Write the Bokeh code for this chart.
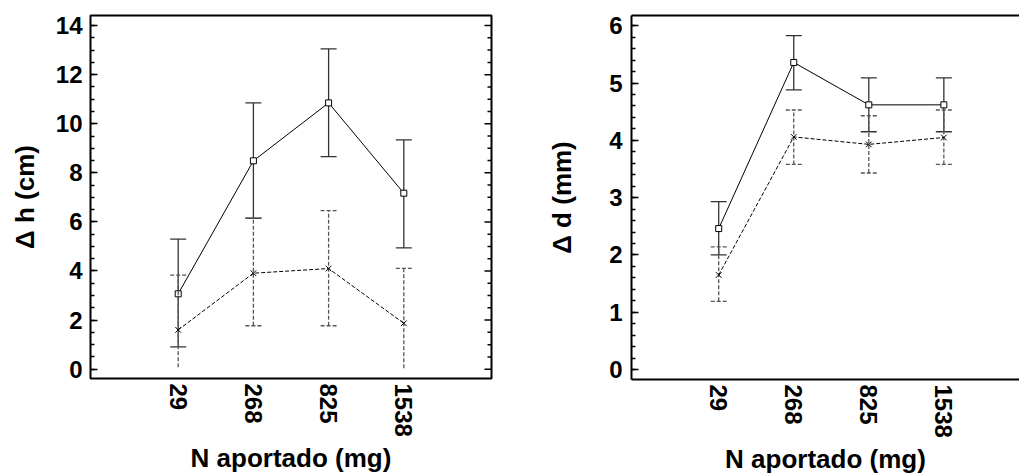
import numpy as np
from bokeh.plotting import figure
from bokeh.layouts import row
from bokeh.models import LinearAxis, Range1d, SingleIntervalTicker, FixedTicker
from bokeh.embed import file_html
from bokeh.resources import INLINE

# ---- data ----
n_labels = ["29", "268", "825", "1538"]
x_pos = [1, 2, 3, 4]

# Delta h (cm)
h_mean_1 = [3.07, 8.49, 10.85, 7.17]
h_up_1 = [5.30, 10.85, 13.05, 9.34]
h_lo_1 = [0.91, 6.15, 8.66, 4.94]
h_mean_2 = [1.60, 3.91, 4.10, 1.87]
h_up_2 = [3.83, 6.15, 6.46, 4.11]
h_lo_2 = [0.08, 1.77, 1.77, 0.04]

# Delta d (mm)
d_mean_1 = [2.46, 5.36, 4.62, 4.62]
d_up_1 = [2.93, 5.83, 5.09, 5.09]
d_lo_1 = [2.00, 4.88, 4.15, 4.15]
d_mean_2 = [1.65, 4.06, 3.93, 4.05]
d_up_2 = [2.14, 4.53, 4.43, 4.53]
d_lo_2 = [1.19, 3.58, 3.43, 3.58]

FONT = "Liberation Sans"
TICK_FS = "24px"
LABEL_FS = "26px"


def draw_series(p, mean, up, lo, dashed, marker):
    dash = "4 2" if dashed else "solid"
    wcol = "#555555" if dashed else "#333333"
    p.segment(x0=x_pos, y0=lo, x1=x_pos, y1=up, line_color=wcol,
              line_width=1.3, line_dash=dash)
    p.scatter(x=x_pos, y=up, marker="dash", size=16, line_color=wcol,
              line_width=1.3, line_dash=dash)
    lx = [x for x, v in zip(x_pos, lo) if v > 0.2]
    ly = [v for v in lo if v > 0.2]
    p.scatter(x=lx, y=ly, marker="dash", size=16, line_color=wcol,
              line_width=1.3, line_dash=dash)
    p.line(x=x_pos, y=mean, line_color="black", line_width=1, line_dash=dash)
    if marker == "square":
        p.scatter(x=x_pos, y=mean, marker="square", size=6, fill_color="white",
                  line_color="black", line_width=1)
    else:
        p.scatter(x=x_pos, y=mean, marker="x", size=8, line_color="black",
                  line_width=1)


def style_axes(p, interval, nminor, ylabel, label_standoff, tick_standoff):
    p.xgrid.visible = False
    p.ygrid.visible = False
    ya = p.yaxis[0]
    ya.ticker = SingleIntervalTicker(interval=interval, num_minor_ticks=nminor)
    ya.major_tick_in = 7
    ya.major_tick_out = 0
    ya.minor_tick_in = 4
    ya.minor_tick_out = 0
    ya.major_tick_line_width = 1.5
    ya.minor_tick_line_width = 1.5
    ya.major_label_text_font = FONT
    ya.major_label_text_font_style = "bold"
    ya.major_label_text_font_size = TICK_FS
    ya.major_label_text_color = "black"
    ya.major_label_standoff = tick_standoff
    ya.axis_label = ylabel
    ya.axis_label_text_font = FONT
    ya.axis_label_text_font_style = "bold"
    ya.axis_label_text_font_size = LABEL_FS
    ya.axis_label_text_color = "black"
    ya.axis_label_standoff = label_standoff

    xa = p.xaxis[0]
    xa.ticker = FixedTicker(ticks=x_pos)
    xa.major_label_overrides = {x: lab for x, lab in zip(x_pos, n_labels)}
    xa.major_label_orientation = "vertical"
    xa.major_tick_in = 0
    xa.major_tick_out = 0
    xa.minor_tick_in = 0
    xa.minor_tick_out = 0
    xa.major_label_text_font = FONT
    xa.major_label_text_font_style = "bold"
    xa.major_label_text_font_size = TICK_FS
    xa.major_label_text_color = "black"
    xa.major_label_standoff = 5
    xa.axis_label = "N aportado (mg)"
    xa.axis_label_text_font = FONT
    xa.axis_label_text_font_style = "bold"
    xa.axis_label_text_font_size = LABEL_FS
    xa.axis_label_text_color = "black"
    xa.axis_label_standoff = 3


# ---- left panel ----
p1 = figure(frame_width=401, frame_height=363, output_backend="svg",
            toolbar_location=None, x_range=Range1d(-0.166, 5.166),
            y_range=Range1d(-0.38, 14.41),
            min_border_left=90, min_border_right=29, min_border_top=14,
            min_border_bottom=98)
p1.outline_line_color = "black"
p1.outline_line_width = 2
draw_series(p1, h_mean_1, h_up_1, h_lo_1, False, "square")
draw_series(p1, h_mean_2, h_up_2, h_lo_2, True, "x")
style_axes(p1, 2, 4, "Δ h (cm)", 13, 8)
p1.yaxis[0].axis_line_color = None
p1.xaxis[0].axis_line_color = None

# mirrored inward ticks on the right edge of the left panel (clipped to frame)
x_edge = p1.x_range.end
major_t = np.arange(0, 14.01, 2)
minor_t = np.array([t for t in np.arange(0, 14.41, 0.5) if t % 2 != 0])
p1.scatter(x=[x_edge] * len(major_t), y=major_t, marker="dash", size=14,
           line_color="black", line_width=1.5)
p1.scatter(x=[x_edge] * len(minor_t), y=minor_t, marker="dash", size=8,
           line_color="black", line_width=1.5)

# ---- right panel ----
p2 = figure(frame_width=388, frame_height=364, output_backend="svg",
            toolbar_location=None, x_range=Range1d(-0.162, 5.008),
            y_range=Range1d(-0.175, 6.18),
            min_border_left=111, min_border_right=0, min_border_top=15,
            min_border_bottom=96)
p2.outline_line_color = None
draw_series(p2, d_mean_1, d_up_1, d_lo_1, False, "square")
draw_series(p2, d_mean_2, d_up_2, d_lo_2, True, "x")
style_axes(p2, 1, 5, "Δ d (mm)", 29, 9)
p2.yaxis[0].axis_line_width = 2
p2.xaxis[0].axis_line_width = 2
tax = LinearAxis(ticker=FixedTicker(ticks=[]), major_tick_in=0, major_tick_out=0,
                 minor_tick_in=0, minor_tick_out=0,
                 major_label_standoff=0, axis_line_width=2)
p2.add_layout(tax, "above")

layout = row(p1, p2)
open("out.html", "w").write(file_html(layout, INLINE))
